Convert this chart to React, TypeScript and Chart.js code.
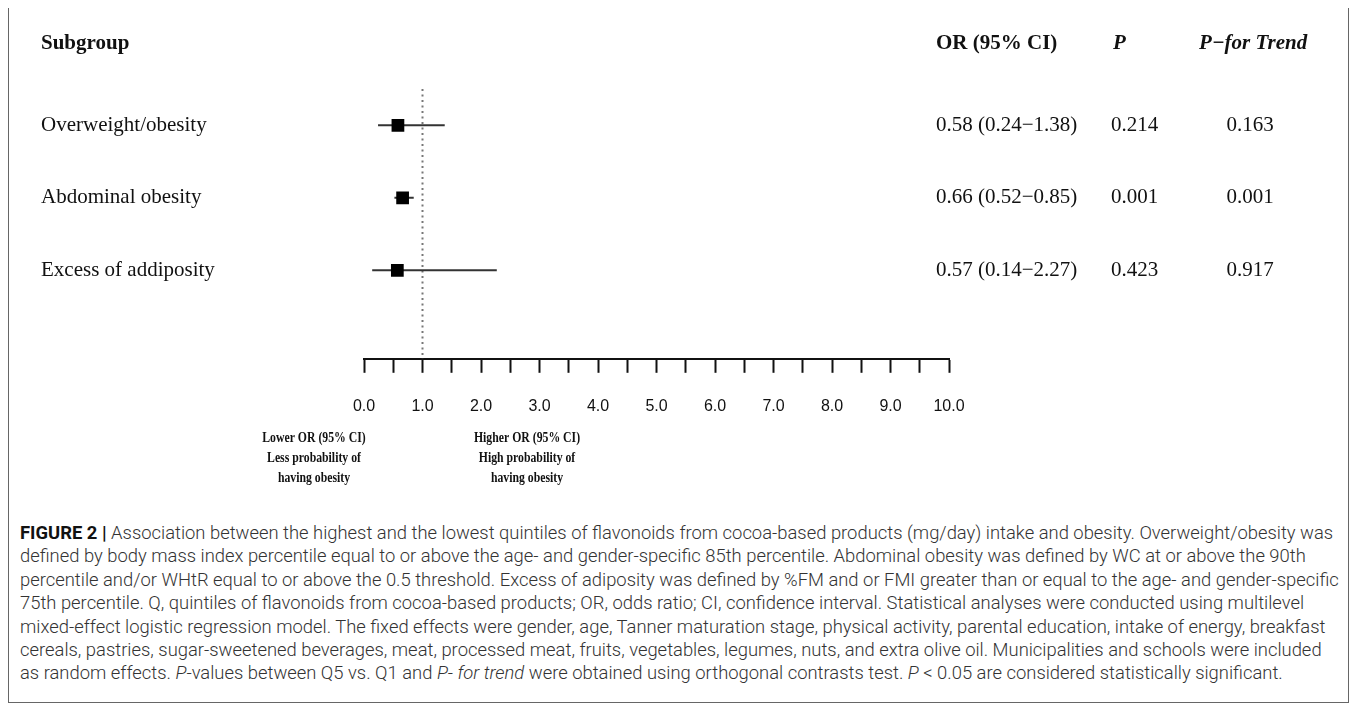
import React, { useEffect, useRef } from "react";
import { Chart, registerables } from "chart.js";

Chart.register(...registerables);

const subgroups = ["Overweight/obesity", "Abdominal obesity", "Excess of addiposity"];
const orValues = [0.58, 0.66, 0.57];
const ciLower = [0.24, 0.52, 0.14];
const ciUpper = [1.38, 0.85, 2.27];
const orText = ["0.58 (0.24\u22121.38)", "0.66 (0.52\u22120.85)", "0.57 (0.14\u22122.27)"];
const pValues = ["0.214", "0.001", "0.423"];
const pTrend = ["0.163", "0.001", "0.917"];
const headers = ["Subgroup", "OR (95% CI)", "P", "P\u2212for Trend"];
const tickLabels = ["0.0", "1.0", "2.0", "3.0", "4.0", "5.0", "6.0", "7.0", "8.0", "9.0", "10.0"];
const referenceOR = 1;
const lowerNote = ["Lower OR (95% CI)", "Less probability of", "having obesity"];
const higherNote = ["Higher OR (95% CI)", "High probability of", "having obesity"];

const captionLines: Array<Array<[string, string]>> = [
  [["b", "FIGURE 2 |"], ["n", " Association between the highest and the lowest quintiles of flavonoids from cocoa-based products (mg/day) intake and obesity. Overweight/obesity was"]],
  [["n", "defined by body mass index percentile equal to or above the age- and gender-specific 85th percentile. Abdominal obesity was defined by WC at or above the 90th"]],
  [["n", "percentile and/or WHtR equal to or above the 0.5 threshold. Excess of adiposity was defined by %FM and or FMI greater than or equal to the age- and gender-specific"]],
  [["n", "75th percentile. Q, quintiles of flavonoids from cocoa-based products; OR, odds ratio; CI, confidence interval. Statistical analyses were conducted using multilevel"]],
  [["n", "mixed-effect logistic regression model. The fixed effects were gender, age, Tanner maturation stage, physical activity, parental education, intake of energy, breakfast"]],
  [["n", "cereals, pastries, sugar-sweetened beverages, meat, processed meat, fruits, vegetables, legumes, nuts, and extra olive oil. Municipalities and schools were included"]],
  [["n", "as random effects. "], ["i", "P"], ["n", "-values between Q5 vs. Q1 and "], ["i", "P- for trend"], ["n", " were obtained using orthogonal contrasts test. "], ["i", "P"], ["n", " < 0.05 are considered statistically significant."]],
];

const SERIF = '"Liberation Serif", "Times New Roman", serif';

const textPlugin = {
  id: "forestText",
  afterDraw(chart: any) {
    const ctx = chart.ctx;
    const y = chart.scales.y;
    ctx.save();
    ctx.fillStyle = "#111";
    ctx.textBaseline = "middle";
    ctx.textAlign = "left";
    const headY = y.getPixelForValue(1) - 82;
    ctx.font = `bold 21px ${SERIF}`;
    ctx.fillText(headers[0], 32, headY);
    ctx.fillText(headers[1], 927, headY);
    ctx.font = `italic bold 21px ${SERIF}`;
    ctx.fillText(headers[2], 1104, headY);
    ctx.fillText(headers[3], 1190, headY);
    ctx.font = `21px ${SERIF}`;
    subgroups.forEach((s, i) => {
      const yy = y.getPixelForValue(i + 1);
      ctx.textAlign = "left";
      ctx.fillText(s, 32, yy);
      ctx.fillText(orText[i], 927, yy);
      ctx.fillText(pValues[i], 1102, yy);
      ctx.textAlign = "center";
      ctx.fillText(pTrend[i], 1241, yy);
    });
    ctx.font = `bold 14px ${SERIF}`;
    ctx.textAlign = "center";
    const baseY = chart.chartArea.bottom + 80;
    const sx = 0.84;
    const drawNote = (lines: string[], cx: number) => {
      lines.forEach((t, i) => {
        ctx.save();
        ctx.translate(cx, baseY + i * 20);
        ctx.scale(sx, 1);
        ctx.fillText(t, 0, 0);
        ctx.restore();
      });
    };
    drawNote(lowerNote, 305);
    drawNote(higherNote, 518);
    ctx.restore();
  },
};

export default function App() {
  const canvasRef = useRef<HTMLCanvasElement | null>(null);

  useEffect(() => {
    if (!canvasRef.current) return;
    const ciSets = subgroups.map((_, i) => ({
      type: "line" as const,
      data: [
        { x: ciLower[i], y: i + 1 },
        { x: ciUpper[i], y: i + 1 },
      ],
      borderColor: "#333",
      borderWidth: 2,
      pointRadius: 0,
      order: 2,
    }));
    const chart = new Chart(canvasRef.current, {
      type: "scatter",
      data: {
        datasets: [
          {
            type: "scatter",
            data: orValues.map((v, i) => ({ x: v, y: i + 1 })),
            pointStyle: "rect",
            pointRadius: 9,
            backgroundColor: "#000",
            borderColor: "#000",
            borderWidth: 0,
            order: 0,
          } as any,
          ...ciSets,
          {
            type: "line",
            data: [
              { x: referenceOR, y: 0.5 },
              { x: referenceOR, y: 4.22 },
            ],
            borderColor: "#777",
            borderWidth: 2,
            borderDash: [2, 3.5],
            pointRadius: 0,
            order: 3,
          },
        ],
      },
      options: {
        animation: false,
        responsive: false,
        maintainAspectRatio: false,
        layout: { padding: { left: 355, right: 399, top: 81, bottom: 68 } },
        plugins: { legend: { display: false }, tooltip: { enabled: false } },
        scales: {
          x: {
            type: "linear",
            min: 0,
            max: 10,
            grid: {
              display: true,
              drawOnChartArea: false,
              drawTicks: true,
              tickLength: 14,
              tickColor: "#111",
              tickWidth: 2,
            },
            border: { display: true, color: "#111", width: 2 },
            ticks: {
              stepSize: 0.5,
              autoSkip: false,
              maxRotation: 0,
              padding: 24,
              color: "#111",
              font: { family: '"Liberation Sans", Arial, sans-serif', size: 16 },
              callback: (v: any) => {
                const n = Number(v);
                const idx = Math.round(n * 2);
                return idx % 2 === 0 ? tickLabels[idx / 2] : "";
              },
            },
          },
          y: { type: "linear", display: false, reverse: true, min: 0.5, max: 4.22 },
        },
      },
      plugins: [textPlugin],
    });
    return () => chart.destroy();
  }, []);

  return (
    <div style={{ border: "1px solid #666", marginTop: -1, width: 1341, height: 696, boxSizing: "border-box", overflow: "hidden" }}>
      <canvas ref={canvasRef} width={1339} height={500} style={{ display: "block" }} />
      <div
        style={{
          paddingLeft: 11,
          marginTop: 13,
          fontFamily: '"Roboto", "Liberation Sans", sans-serif',
          fontWeight: 300,
          fontSize: 18.4,
          lineHeight: "23.4px",
          color: "#333",
          whiteSpace: "nowrap",
        }}
      >
        {captionLines.map((line, i) => (
          <div key={i}>
            {line.map(([k, t], j) => (
              <span key={j} style={{ fontWeight: k === "b" ? "bold" : 300, fontStyle: k === "i" ? "italic" : "normal", color: k === "b" ? "#111" : undefined }}>
                {t}
              </span>
            ))}
          </div>
        ))}
      </div>
    </div>
  );
}
